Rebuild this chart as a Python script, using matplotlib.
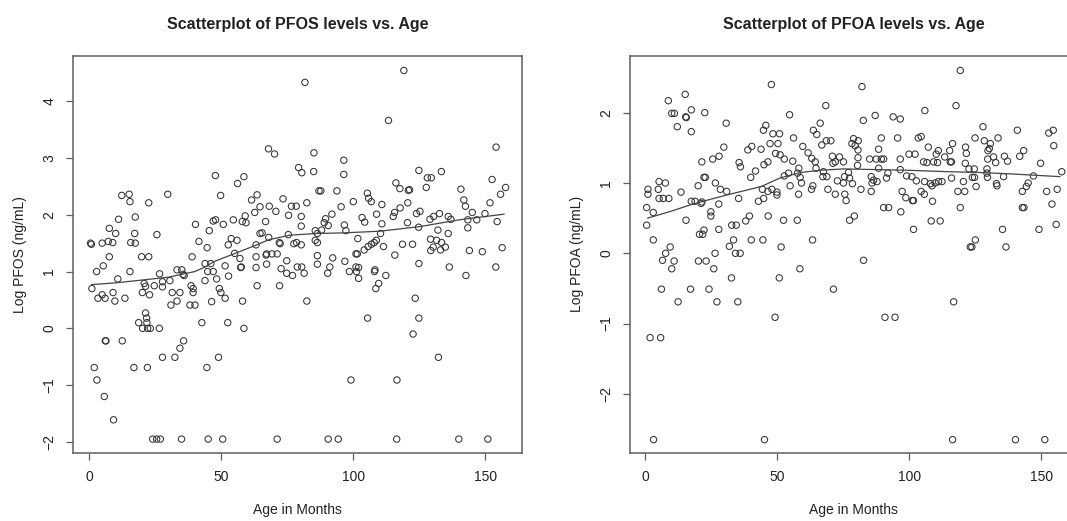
import numpy as np
import matplotlib
matplotlib.use("Agg")
import matplotlib.pyplot as plt

plt.rcParams['font.family'] = ['Liberation Sans', 'DejaVu Sans']

# PFOS panel: (age in months, log PFOS)
pfos_points = [
    (0.6, 1.50), (0.9, 1.48), (5.0, 1.50), (7.3, 1.53), (9.0, 1.51), (7.7, 1.76), (10.1, 1.67),
    (7.7, 1.26), (11.2, 1.92), (12.4, 2.34), (15.2, 2.36), (15.5, 2.23), (17.5, 1.96), (15.8, 1.51),
    (17.5, 1.50), (17.3, 1.67), (19.9, 1.26), (22.6, 1.26), (22.6, 2.21), (25.7, 1.65), (29.8, 2.36),
    (39.0, 1.26), (40.3, 1.83), (41.6, 1.53), (44.7, 1.42), (45.5, 1.72), (47.0, 1.89), (47.9, 1.91),
    (47.8, 2.69), (49.8, 2.34), (50.8, 1.83), (52.7, 1.47), (53.8, 1.58), (56.0, 1.55), (54.6, 1.91),
    (55.1, 1.32), (56.2, 2.55), (58.6, 2.67), (58.0, 1.88), (59.4, 1.86), (59.1, 1.98), (61.5, 2.26),
    (62.7, 2.04), (63.6, 2.35), (64.7, 2.14), (66.8, 1.88), (64.7, 1.67), (65.5, 1.68), (63.2, 1.47),
    (67.9, 3.16), (68.2, 2.15), (68.0, 1.60), (67.0, 1.29), (63.2, 1.26), (57.1, 1.23),
    (81.7, 4.33), (119.1, 4.54), (113.3, 3.66), (70.2, 3.07), (85.1, 3.09), (96.4, 2.96),
    (96.4, 2.71), (79.3, 2.83), (80.5, 2.74), (85.0, 2.76), (154.0, 3.19), (124.8, 2.78), (133.3, 2.76),
    (128.0, 2.65), (129.5, 2.65), (116.1, 2.56), (117.6, 2.46), (120.8, 2.43), (121.3, 2.44),
    (127.6, 2.48), (140.7, 2.45), (152.5, 2.62), (157.6, 2.48), (155.7, 2.36), (151.7, 2.21),
    (141.8, 2.26), (142.4, 2.15), (145.0, 2.04), (149.8, 2.02), (154.4, 1.88), (146.7, 1.91),
    (143.3, 1.91), (143.3, 1.77), (135.9, 1.67), (132.0, 1.73), (135.9, 1.97), (136.9, 1.92),
    (132.6, 2.02), (130.4, 1.97), (129.0, 1.92), (123.9, 2.02), (125.2, 2.06), (120.6, 2.21),
    (117.7, 2.12), (115.6, 2.04), (115.1, 1.97), (120.5, 1.86), (124.7, 1.78), (110.8, 2.18),
    (105.3, 2.38), (105.8, 2.29), (106.8, 2.23), (108.8, 2.01), (110.3, 1.67), (110.8, 1.84),
    (100.0, 2.23), (95.4, 2.14), (93.8, 2.42), (87.0, 2.42), (87.7, 2.42), (82.4, 2.21), (78.4, 2.15),
    (76.6, 2.15), (73.4, 2.28), (70.7, 2.06), (75.5, 1.99), (80.3, 1.97), (80.3, 1.80), (91.9, 2.01),
    (89.5, 1.93), (90.5, 1.81), (89.0, 1.86), (88.0, 1.73), (85.6, 1.72), (86.4, 1.67), (96.6, 1.82),
    (97.2, 1.72), (103.3, 1.95), (104.3, 1.87), (101.7, 1.58), (75.4, 1.65), (72.0, 1.51), (72.3, 1.49),
    (77.5, 1.49), (78.5, 1.51), (80.3, 1.47), (85.6, 1.55), (86.4, 1.51), (107.9, 1.51), (106.8, 1.48),
    (105.6, 1.44), (108.7, 1.55), (111.4, 1.44), (104.1, 1.38), (101.0, 1.31), (101.5, 1.31),
    (118.6, 1.48), (122.4, 1.48), (115.7, 1.29), (129.2, 1.57), (130.2, 1.43), (131.5, 1.55),
    (133.4, 1.51), (134.8, 1.43), (133.0, 1.38), (129.3, 1.37), (143.9, 1.37), (148.8, 1.35),
    (156.3, 1.42), (86.4, 1.28), (86.4, 1.13), (92.2, 1.24), (96.8, 1.18), (67.2, 1.31), (69.2, 1.31),
    (71.2, 1.31), (74.8, 1.19), (78.8, 1.08), (80.5, 1.08), (72.7, 1.05), (101.0, 1.08), (124.8, 1.14),
    (136.3, 1.08), (153.9, 1.08), (91.1, 1.08), (108.2, 1.03),
    (72.1, 0.75), (74.8, 0.97), (77.0, 0.93), (81.4, 0.97), (82.4, 0.48), (90.3, 0.97), (98.5, 1.00),
    (102.0, 1.07), (101.2, 1.00), (102.0, 0.88), (105.4, 0.18), (108.0, 1.00), (112.3, 0.93),
    (109.6, 0.79), (108.5, 0.70), (99.1, -0.91), (116.5, -0.91), (123.4, 0.53), (124.8, 0.18),
    (122.6, -0.10), (132.2, -0.51), (142.6, 0.93),
    (71.2, -1.95), (90.5, -1.95), (94.3, -1.95), (116.4, -1.95), (139.9, -1.95), (150.9, -1.95),
    (1.1, 0.70), (2.9, 1.00), (5.4, 1.10), (3.4, 0.53), (5.0, 0.59), (6.1, 0.53), (9.1, 0.63),
    (9.8, 0.48), (10.9, 0.87), (13.6, 0.53), (15.5, 1.00), (20.2, 0.63), (20.9, 0.79), (21.4, 0.74),
    (22.9, 0.59), (24.7, 0.75), (26.7, 0.96), (27.8, 0.73), (27.8, 0.82), (30.6, 0.84), (31.5, 0.63),
    (31.0, 0.41), (33.3, 0.48), (33.3, 1.03), (35.1, 1.03), (35.6, 0.95), (36.0, 0.93), (34.4, 0.63),
    (38.6, 0.75), (39.4, 0.70), (39.4, 0.63), (38.2, 0.41), (40.1, 0.41), (42.7, 0.10), (43.9, 0.84),
    (43.9, 1.14), (44.9, 1.00), (46.1, 1.14), (47.0, 1.00), (46.4, 0.47), (48.3, 0.87), (49.3, 0.70),
    (49.9, 0.63), (51.5, 0.53), (51.5, 1.10), (52.8, 0.92), (52.5, 0.10), (57.4, 1.07), (57.6, 1.08),
    (58.1, 0.48), (58.6, 0.00), (63.2, 1.07), (63.6, 0.75), (67.2, 1.13), (18.8, 0.10), (20.3, 0.00),
    (21.4, 0.27), (21.8, 0.18), (21.9, 0.10), (22.2, 0.00), (23.2, 0.00), (26.6, 0.00), (6.2, -0.22),
    (6.4, -0.22), (12.6, -0.22), (35.8, -0.22), (34.4, -0.35), (32.5, -0.51), (27.8, -0.51),
    (49.0, -0.51), (2.0, -0.69), (17.0, -0.69), (22.1, -0.69), (44.6, -0.69), (3.0, -0.91),
    (5.8, -1.20), (9.3, -1.61), (24.1, -1.95), (25.6, -1.95), (27.0, -1.95), (35.0, -1.95),
    (45.1, -1.95), (50.6, -1.95),
]

# PFOA panel
pfoa_points = [
    (0.6, 0.40), (0.6, 0.65), (1.1, 0.91), (1.1, 0.84), (3.1, 0.58), (3.1, 0.19), (5.3, 1.02),
    (5.0, 0.91), (5.3, 0.78), (6.9, 0.78), (9.0, 0.78), (7.7, 1.00), (8.8, 2.17), (10.1, 1.99),
    (11.1, 1.99), (12.2, 1.80), (13.6, 0.87), (15.2, 2.26), (15.4, 1.94), (15.6, 1.93), (17.5, 2.04),
    (17.5, 1.73), (15.5, 0.47), (17.5, 0.74), (18.9, 0.74), (20.1, 0.96), (21.5, 1.30), (22.6, 2.00),
    (22.3, 1.08), (22.8, 1.08), (21.5, 0.73), (21.2, 0.71), (20.6, 0.27), (21.8, 0.27), (22.3, 0.33),
    (24.9, 0.59), (24.9, 0.53), (25.6, 1.34), (26.6, 1.00), (28.0, 1.38), (27.9, 0.70), (28.5, 0.91),
    (27.9, 0.34), (29.8, 1.51), (30.7, 1.85), (30.9, 0.88), (32.8, 0.40), (34.5, 0.40), (33.5, 0.19),
    (31.9, 0.10), (35.6, 1.29), (36.1, 1.23), (35.4, 0.78), (38.1, 0.46), (39.5, 0.53), (38.9, 1.47),
    (40.4, 1.52), (40.0, 1.08), (41.8, 1.17), (40.2, 0.19), (42.9, 0.74), (43.9, 1.48), (44.4, 0.91),
    (44.9, 0.78), (44.6, 0.19), (45.0, 1.26), (46.5, 1.30), (44.8, 1.75), (45.7, 1.82), (47.8, 2.40),
    (47.3, 1.56), (50.3, 1.56), (50.9, 1.70), (48.4, 1.70), (46.6, 0.53), (48.0, 0.91), (46.5, 0.88),
    (49.4, 1.42), (51.1, 1.40), (52.7, 1.34), (49.9, 0.87), (49.9, 0.83), (51.5, 0.09), (52.4, 0.47),
    (52.7, 1.10), (54.3, 1.14), (54.7, 1.97), (54.9, 0.96), (55.9, 1.31), (56.2, 1.64), (57.6, 0.47),
    (57.7, 1.14), (58.2, 1.21), (58.7, 1.08), (59.2, 1.00), (58.1, 0.84), (59.7, 1.52), (61.7, 1.43),
    (63.1, 1.35), (63.5, 0.96), (63.0, 0.91), (63.7, 1.75), (65.0, 1.69), (64.7, 1.21), (64.4, 1.30),
    (63.4, 0.19), (66.3, 1.85), (6.6, -0.10), (7.8, 0.00), (9.5, 0.09), (11.0, -0.11), (20.2, -0.11),
    (23.1, -0.11), (26.5, 0.00), (34.2, 0.00), (36.0, 0.00), (10.1, -0.22), (26.0, -0.22),
    (58.6, -0.22),
    (6.2, -0.51), (12.5, -0.69), (17.2, -0.51), (24.2, -0.51), (27.2, -0.69), (32.7, -0.35),
    (35.1, -0.69), (49.2, -0.91), (50.8, -0.35), (1.9, -1.20), (5.9, -1.20), (3.2, -2.65),
    (45.2, -2.65),
    (71.3, -0.51), (90.8, -0.91), (94.6, -0.91), (116.8, -0.69), (116.4, -2.65), (140.2, -2.65),
    (151.3, -2.65),
    (119.3, 2.60), (82.1, 2.37), (68.4, 2.10), (117.7, 2.10), (105.9, 2.03), (82.6, 1.89),
    (87.1, 1.96), (93.9, 1.94), (96.6, 1.91), (66.9, 1.54), (68.6, 1.60), (70.3, 1.60), (127.9, 1.80),
    (140.9, 1.75), (152.8, 1.71), (154.5, 1.75), (154.7, 1.53), (89.4, 1.64), (95.6, 1.64),
    (103.4, 1.64), (104.5, 1.66), (78.9, 1.63), (80.7, 1.60), (78.3, 1.56), (79.5, 1.53), (80.6, 1.47),
    (80.6, 1.36), (88.4, 1.48), (80.4, 1.25), (70.9, 1.38), (73.6, 1.37), (75.1, 1.30), (72.0, 1.30),
    (71.1, 1.28), (67.5, 1.16), (67.3, 1.09), (68.8, 1.09), (69.2, 0.91), (72.8, 1.03), (75.1, 1.00),
    (75.5, 1.09), (77.0, 1.15), (77.4, 1.07), (78.5, 0.99), (72.0, 0.84), (75.6, 0.84), (76.1, 0.75),
    (77.4, 0.47), (79.2, 0.53), (81.7, 0.91), (85.0, 1.34), (87.5, 1.34), (89.4, 1.34), (90.3, 1.34),
    (88.4, 1.21), (91.9, 1.14), (85.6, 1.09), (86.5, 1.04), (85.9, 1.00), (87.8, 1.02), (85.6, 0.88),
    (91.4, 1.07), (90.3, 0.65), (92.2, 0.65), (96.6, 1.34), (96.6, 1.19), (97.3, 0.88), (98.7, 0.79),
    (96.8, 0.59), (99.9, 1.41), (102.2, 1.41), (99.0, 1.10), (101.0, 1.09), (102.7, 1.03),
    (101.2, 0.75), (101.6, 0.75), (104.5, 0.88), (105.7, 0.84), (101.6, 0.34), (105.4, 1.30),
    (106.7, 1.29), (109.2, 1.30), (110.7, 1.29), (107.2, 1.51), (110.2, 1.41), (111.0, 1.46),
    (113.4, 1.37), (115.5, 1.30), (116.0, 1.30), (115.3, 1.46), (116.4, 1.56), (105.8, 1.02),
    (108.0, 0.99), (109.8, 1.00), (111.1, 1.02), (112.4, 1.02), (108.6, 0.96), (108.8, 0.74),
    (108.3, 0.46), (111.7, 0.46), (116.0, 1.07), (118.4, 0.88), (121.0, 0.88), (119.3, 0.65),
    (120.5, 1.02), (121.3, 1.51), (121.6, 1.42), (121.2, 1.28), (122.6, 1.20), (124.6, 1.20),
    (123.9, 1.08), (124.7, 1.08), (125.3, 0.95), (124.9, 1.64), (128.4, 1.60), (130.7, 1.56),
    (130.3, 1.49), (129.8, 1.46), (133.6, 1.64), (129.7, 1.34), (131.9, 1.37), (132.7, 1.29),
    (129.4, 1.20), (129.4, 1.14), (129.6, 1.08), (133.0, 0.99), (133.2, 0.96), (135.7, 1.09),
    (136.0, 1.38), (137.2, 1.31), (141.8, 1.38), (143.3, 1.46), (147.0, 1.10), (145.0, 1.00),
    (144.3, 0.95), (142.8, 0.88), (149.7, 1.28), (152.0, 0.88), (156.0, 0.91), (157.7, 1.16),
    (154.0, 0.70), (155.6, 0.41), (149.1, 0.34), (135.3, 0.34), (136.6, 0.09), (142.8, 0.65),
    (143.4, 0.65), (125.0, 0.19), (123.1, 0.09), (123.7, 0.09), (82.7, -0.10),
]

# smoother curves
pfos_smooth_x = [1, 10, 20, 30, 35, 40, 44, 47, 52, 58, 63, 68, 76, 86, 96, 110, 125, 140, 157]
pfos_smooth_y = [0.77, 0.80, 0.85, 0.90, 0.95, 1.00, 1.08, 1.17, 1.26, 1.37, 1.46, 1.56, 1.64,
                 1.67, 1.68, 1.71, 1.79, 1.91, 2.01]
pfoa_smooth_x = [1, 10, 18, 31, 44, 51, 59, 66, 75, 88, 100, 115, 126, 138, 157]
pfoa_smooth_y = [0.50, 0.60, 0.70, 0.83, 0.95, 1.07, 1.15, 1.18, 1.20, 1.19, 1.18, 1.16, 1.15,
                 1.13, 1.09]

GREY = '#5e5e5e'
INK = '#222222'


def draw_panel(ax, points, sm_x, sm_y, title, ylabel, xlim, ylim, yticks):
    pts = np.array(points)
    ax.scatter(pts[:, 0], pts[:, 1], s=21, facecolors='none', edgecolors='#333333',
               linewidths=0.75, zorder=3)
    ax.plot(sm_x, sm_y, color='#444444', linewidth=0.9, zorder=4)
    ax.set_xlim(*xlim)
    ax.set_ylim(*ylim)
    ax.set_xticks([0, 50, 100, 150])
    ax.set_yticks(yticks)
    for s in ax.spines.values():
        s.set_color(GREY)
        s.set_linewidth(1.1)
    ax.tick_params(axis='both', direction='out', length=5, width=0.9, color=GREY,
                   labelsize=10, labelcolor=INK, pad=7)
    for lab in ax.get_yticklabels():
        lab.set_rotation(90)
        lab.set_va('center')
    ax.set_title(title, fontsize=11.5, fontweight='bold', color=INK, pad=19)
    ax.set_xlabel('Age in Months', fontsize=10, color=INK, labelpad=14)
    ax.set_ylabel(ylabel, fontsize=10, color=INK, labelpad=11)


fig = plt.figure(figsize=(10.67, 5.21), dpi=100)
ax1 = fig.add_axes([0.0684, 0.1305, 0.4208, 0.7626])
ax2 = fig.add_axes([0.5902, 0.1305, 0.4192, 0.7626])

draw_panel(ax1, pfos_points, pfos_smooth_x, pfos_smooth_y, 'Scatterplot of PFOS levels vs. Age',
           'Log PFOS (ng/mL)', (-6.05, 163.8), (-2.195, 4.80), [-2, -1, 0, 1, 2, 3, 4])
draw_panel(ax2, pfoa_points, pfoa_smooth_x, pfoa_smooth_y, 'Scatterplot of PFOA levels vs. Age',
           'Log PFOA (ng/mL)', (-5.8, 163.5), (-2.84, 2.81), [-2, -1, 0, 1, 2])

fig.savefig('out.png', dpi=100, facecolor='white')
